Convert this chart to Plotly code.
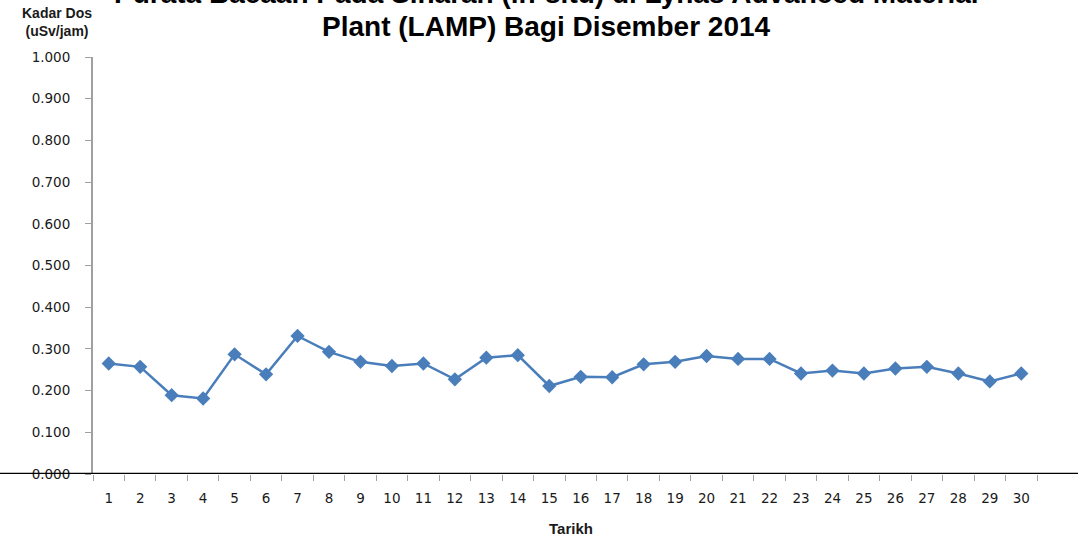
import plotly.graph_objects as go

# Tarikh (day of December 2014) and daily dose rate readings (uSv/jam)
tarikh = [str(d) for d in range(1, 31)]
kadar_dos = [0.265, 0.257, 0.189, 0.181, 0.287, 0.239, 0.331, 0.293, 0.269, 0.259,
             0.265, 0.227, 0.279, 0.285, 0.211, 0.233, 0.232, 0.263, 0.269, 0.283,
             0.276, 0.276, 0.241, 0.248, 0.241, 0.253, 0.257, 0.241, 0.222, 0.241]
y_ticks = [i / 10 for i in range(11)]

title_lines = ["Purata Bacaan Pada Sinaran (in-situ) di Lynas Advanced Material",
               "Plant (LAMP) Bagi Disember 2014"]

blue = "#4a7ebb"
tick_font = dict(family="DejaVu Sans, Verdana, sans-serif", size=13.5, color="#1a1a1a")
label_font = "Liberation Sans Narrow, Arial Narrow, Liberation Sans, sans-serif"
title_font = dict(family="Liberation Sans, Arial, sans-serif", size=28, color="black")

fig = go.Figure(
    data=[
        go.Scatter(
            x=tarikh, y=kadar_dos, mode="lines+markers",
            line=dict(color=blue, width=2.5),
            marker=dict(symbol="diamond", size=11, color=blue),
            showlegend=False,
        )
    ],
    layout=go.Layout(
        width=1078, height=540,
        margin=dict(l=93, r=41, t=57, b=66),
        paper_bgcolor="white", plot_bgcolor="white",
        xaxis=dict(
            type="category", tickson="boundaries",
            range=[-0.5, len(tarikh) - 0.5],
            ticks="outside", ticklen=6, tickcolor="#a0a0a0",
            ticklabelstandoff=14,
            showline=False, showgrid=False, zeroline=False,
            tickfont=tick_font,
        ),
        yaxis=dict(
            range=[0, 1], tickvals=y_ticks, tickformat=".3f",
            ticks="outside", ticklen=6, tickcolor="#a0a0a0",
            ticklabelstandoff=12,
            showline=True, linecolor="#a0a0a0", linewidth=2,
            showgrid=False, zeroline=False,
            tickfont=tick_font,
        ),
        shapes=[
            # black baseline across the whole width at y = 0
            dict(type="line", xref="paper", yref="y", x0=-0.1, x1=1.05, y0=0, y1=0,
                 line=dict(color="black", width=2.5)),
        ],
        annotations=[
            dict(text="<b>%s</b>" % title_lines[0],
                 xref="paper", yref="paper", x=0.48, y=1.0, yshift=64,
                 xanchor="center", yanchor="middle", showarrow=False, font=title_font),
            dict(text="<b>%s</b>" % title_lines[1],
                 xref="paper", yref="paper", x=0.48, y=1.0, yshift=31,
                 xanchor="center", yanchor="middle", showarrow=False, font=title_font),
            dict(text="<b>Kadar Dos<br>(uSv/jam)</b>",
                 xref="paper", yref="paper", x=-0.038, y=1.0, yshift=35,
                 xanchor="center", yanchor="middle", showarrow=False,
                 font=dict(family=label_font, size=14, color="#1a1a1a")),
            dict(text="<b>Tarikh</b>",
                 xref="paper", yref="paper", x=0.506, y=0, yshift=-54,
                 xanchor="center", yanchor="middle", showarrow=False,
                 font=dict(family=label_font, size=15, color="#1a1a1a")),
        ],
    ),
)

fig.write_html("out.html", config=dict(displayModeBar=False),
               post_script="document.body.style.margin='0';")
